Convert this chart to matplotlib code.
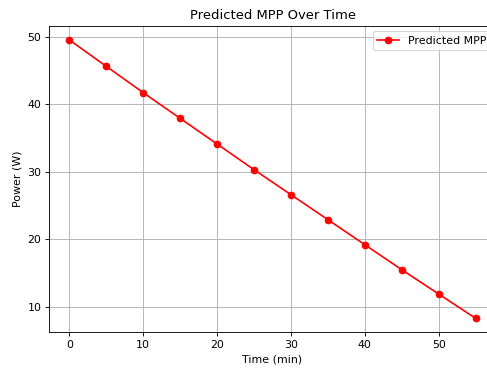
import matplotlib
matplotlib.use("Agg")
import matplotlib.pyplot as plt

time_min = [0, 5, 10, 15, 20, 25, 30, 35, 40, 45, 50, 55]
power_w = [49.5, 45.6, 41.7, 37.9, 34.1, 30.3, 26.6, 22.9, 19.2, 15.5, 11.9, 8.3]

DPI = 79
fig = plt.figure(figsize=(487 / DPI, 371 / DPI), dpi=DPI)
# axes run past the right edge, as in the cropped original
ax = fig.add_axes([49 / 487, (371 - 332.3) / 371, 447 / 487, 306.3 / 371])
ax.plot(time_min, power_w, color="red", marker="o", label="Predicted MPP")
ax.set_title("Predicted MPP Over Time")
ax.set_xlabel("Time (min)")
ax.set_ylabel("Power (W)")
ax.grid(True)
ax.legend(loc="upper right")
fig.savefig("out.png", dpi=DPI)
